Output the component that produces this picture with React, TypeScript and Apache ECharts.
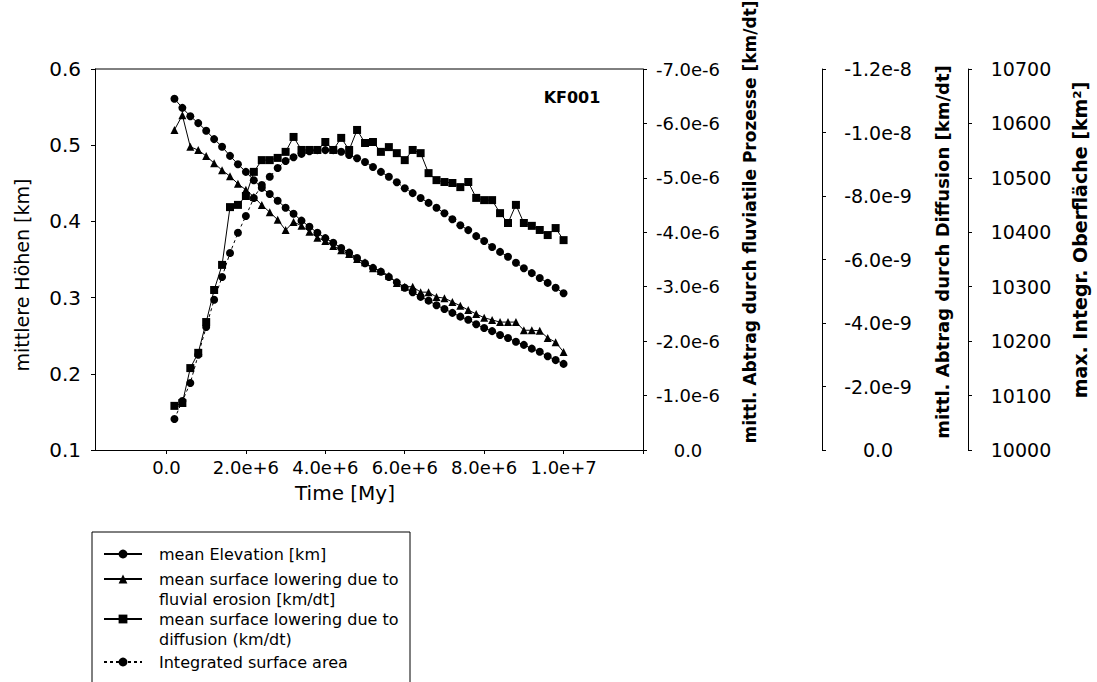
import React, { useEffect, useRef } from "react";
import * as echarts from "echarts";

// ---- data ----
const timeSteps = [
  200000, 400000, 600000, 800000, 1000000, 1200000, 1400000, 1600000, 1800000, 2000000,
  2200000, 2400000, 2600000, 2800000, 3000000, 3200000, 3400000, 3600000, 3800000, 4000000,
  4200000, 4400000, 4600000, 4800000, 5000000, 5200000, 5400000, 5600000, 5800000, 6000000,
  6200000, 6400000, 6600000, 6800000, 7000000, 7200000, 7400000, 7600000, 7800000, 8000000,
  8200000, 8400000, 8600000, 8800000, 9000000, 9200000, 9400000, 9600000, 9800000, 10000000,
];

// mean elevation [km] (left axis)
const meanElevation = [
  0.561, 0.549, 0.538, 0.529, 0.519, 0.508, 0.498, 0.486, 0.475, 0.465,
  0.454, 0.444, 0.436, 0.427, 0.418, 0.41, 0.401, 0.393, 0.385, 0.378,
  0.372, 0.365, 0.359, 0.352, 0.345, 0.339, 0.334, 0.327, 0.32, 0.313,
  0.307, 0.301, 0.296, 0.29, 0.285, 0.28, 0.275, 0.271, 0.265, 0.26,
  0.256, 0.251, 0.247, 0.242, 0.238, 0.233, 0.229, 0.223, 0.218, 0.213,
];

// mean surface lowering due to fluvial erosion [km/dt] (first right axis)
const fluvialLowering = [
  -5.88e-6, -6.15e-6, -5.57e-6, -5.51e-6, -5.4e-6, -5.27e-6, -5.14e-6, -5.03e-6, -4.89e-6, -4.78e-6,
  -4.65e-6, -4.5e-6, -4.37e-6, -4.23e-6, -4.04e-6, -4.19e-6, -4.12e-6, -4.01e-6, -3.9e-6, -3.84e-6,
  -3.75e-6, -3.67e-6, -3.6e-6, -3.51e-6, -3.45e-6, -3.34e-6, -3.29e-6, -3.2e-6, -3.07e-6, -3.0e-6,
  -3.0e-6, -2.9e-6, -2.9e-6, -2.81e-6, -2.79e-6, -2.72e-6, -2.65e-6, -2.57e-6, -2.5e-6, -2.43e-6,
  -2.39e-6, -2.35e-6, -2.35e-6, -2.35e-6, -2.2e-6, -2.2e-6, -2.19e-6, -2.06e-6, -1.98e-6, -1.8e-6,
];

// mean surface lowering due to diffusion [km/dt] (second right axis)
const diffusionLowering = [
  -1.39e-9, -1.48e-9, -2.58e-9, -3.06e-9, -4.03e-9, -5.04e-9, -5.83e-9, -7.65e-9, -7.72e-9, -8.0e-9,
  -8.76e-9, -9.13e-9, -9.13e-9, -9.2e-9, -9.39e-9, -9.86e-9, -9.45e-9, -9.45e-9, -9.45e-9, -9.7e-9,
  -9.45e-9, -9.83e-9, -9.45e-9, -10.08e-9, -9.67e-9, -9.7e-9, -9.39e-9, -9.54e-9, -9.35e-9, -9.13e-9,
  -9.45e-9, -9.35e-9, -8.72e-9, -8.5e-9, -8.44e-9, -8.41e-9, -8.28e-9, -8.44e-9, -7.94e-9, -7.87e-9,
  -7.87e-9, -7.46e-9, -7.15e-9, -7.72e-9, -7.15e-9, -7.06e-9, -6.93e-9, -6.77e-9, -6.99e-9, -6.61e-9,
];

// integrated surface area [km^2] (third right axis)
const surfaceArea = [
  10057, 10090, 10123, 10175, 10226, 10276, 10318, 10362, 10399, 10430,
  10463, 10487, 10502, 10518, 10531, 10538, 10544, 10549, 10551, 10551,
  10551, 10548, 10542, 10536, 10529, 10520, 10511, 10502, 10492, 10481,
  10472, 10463, 10454, 10445, 10435, 10424, 10413, 10404, 10393, 10384,
  10373, 10364, 10355, 10344, 10334, 10325, 10316, 10307, 10298, 10288,
];

const xLabelValues = [0, 2e6, 4e6, 6e6, 8e6, 1e7];
const xTickValues = [0, 2e6, 4e6, 6e6, 8e6, 1e7, 1.2e7];

const seriesNames = [
  "mean Elevation [km]",
  "mean surface lowering due to\nfluvial erosion [km/dt]",
  "mean surface lowering due to\ndiffusion (km/dt)",
  "Integrated surface area",
];

const FONT = "DejaVu Sans";
const BLACK = "#000";

function expLabel(v: number): string {
  if (Math.abs(v) < 1e-15) return "0.0";
  return v.toExponential(1);
}

function pairs(values: number[]) {
  return timeSteps.map((t, i) => [t, values[i]]);
}

function buildOption() {
  const axisCommon = {
    axisLine: { show: true, onZero: false, lineStyle: { color: BLACK, width: 1 } },
    axisTick: { show: true, length: 4, lineStyle: { color: BLACK } },
    splitLine: { show: false },
  };
  const lineSeries = (
    name: string,
    yAxisIndex: number,
    values: number[],
    symbol: string,
    lineType: any
  ) => ({
    name,
    type: "line",
    xAxisIndex: 0,
    yAxisIndex,
    data: pairs(values),
    symbol,
    symbolSize: 8,
    itemStyle: { color: BLACK },
    lineStyle: { color: BLACK, width: 1, type: lineType },
    emphasis: { disabled: true },
  });

  // icon centres wanted at 553, 578, 618, 661
  const legendTops = [544, 549, 589, 652];

  return {
    animation: false,
    backgroundColor: "#fff",
    textStyle: { fontFamily: FONT, color: BLACK },
    grid: {
      left: 95,
      top: 69,
      width: 548,
      height: 381,
      containLabel: false,
      outerBoundsMode: "none",
    },
    xAxis: {
      type: "value",
      min: -1.8e6,
      max: 1.2e7,
      ...axisCommon,
      axisTick: { show: true, length: 4, customValues: xTickValues, lineStyle: { color: BLACK } },
      axisLabel: {
        customValues: xLabelValues,
        formatter: expLabel,
        fontSize: 18,
        fontFamily: FONT,
        color: BLACK,
        margin: 8,
      },
    },
    yAxis: [
      {
        type: "value",
        position: "left",
        min: 0.1,
        max: 0.6,
        interval: 0.1,
        ...axisCommon,
        axisLabel: {
          formatter: (v: number) => v.toFixed(1),
          fontSize: 20,
          fontFamily: FONT,
          color: BLACK,
          margin: 14,
        },
      },
      {
        type: "value",
        position: "right",
        offset: 0,
        min: -7e-6,
        max: 0,
        interval: 1e-6,
        inverse: true,
        ...axisCommon,
        axisLabel: {
          formatter: expLabel,
          fontSize: 18,
          fontFamily: FONT,
          color: BLACK,
          align: "center",
          margin: 45,
        },
      },
      {
        type: "value",
        position: "right",
        offset: 179,
        min: -1.2e-8,
        max: 0,
        interval: 2e-9,
        inverse: true,
        ...axisCommon,
        axisLabel: {
          formatter: expLabel,
          fontSize: 19,
          fontFamily: FONT,
          color: BLACK,
          align: "center",
          margin: 56,
        },
      },
      {
        type: "value",
        position: "right",
        offset: 325,
        min: 10000,
        max: 10700,
        interval: 100,
        ...axisCommon,
        axisLabel: {
          formatter: (v: number) => String(Math.round(v)),
          fontSize: 19,
          fontFamily: FONT,
          color: BLACK,
          align: "center",
          margin: 53,
        },
      },
    ],
    legend: seriesNames.map((name, i) => {
      const twoLine = name.indexOf("\n") >= 0;
      return {
        data: [name],
        orient: "vertical",
        left: 103,
        top: legendTops[i],
        padding: 0,
        itemWidth: 38,
        itemHeight: 11,
        selectedMode: false,
        textStyle: {
          fontSize: 16,
          fontFamily: FONT,
          color: BLACK,
          lineHeight: 20,
          // rich layout honours the top padding, which lifts the first line to the icon
          padding: twoLine ? [20, 0, 0, 12] : [0, 0, 0, 12],
          rich: { n: { fontSize: 16, fontFamily: FONT, lineHeight: 20, color: BLACK } },
        },
      };
    }),
    series: [
      lineSeries(seriesNames[0], 0, meanElevation, "circle", "solid"),
      lineSeries(seriesNames[1], 1, fluvialLowering, "triangle", "solid"),
      lineSeries(seriesNames[2], 2, diffusionLowering, "rect", "solid"),
      lineSeries(seriesNames[3], 3, surfaceArea, "circle", [3, 3]),
    ],
    graphic: [
      {
        type: "line",
        shape: { x1: 95, y1: 69, x2: 643, y2: 69 },
        style: { stroke: BLACK, lineWidth: 1 },
        silent: true,
      },
      {
        type: "text",
        x: 22,
        y: 275,
        rotation: Math.PI / 2,
        style: {
          text: "mittlere Höhen [km]",
          fontSize: 19,
          fontFamily: FONT,
          fill: BLACK,
          align: "center",
          verticalAlign: "middle",
        },
      },
      {
        type: "text",
        x: 345,
        y: 493,
        style: {
          text: "Time [My]",
          fontSize: 20,
          fontFamily: FONT,
          fill: BLACK,
          align: "center",
          verticalAlign: "middle",
        },
      },
      {
        type: "text",
        x: 750,
        y: 222,
        rotation: Math.PI / 2,
        style: {
          text: "mittl. Abtrag durch fluviatile Prozesse [km/dt]",
          fontSize: 17,
          fontWeight: "bold",
          fontFamily: FONT,
          fill: BLACK,
          align: "center",
          verticalAlign: "middle",
        },
      },
      {
        type: "text",
        x: 942,
        y: 252,
        rotation: Math.PI / 2,
        style: {
          text: "mittl. Abtrag durch Diffusion [km/dt]",
          fontSize: 18,
          fontWeight: "bold",
          fontFamily: FONT,
          fill: BLACK,
          align: "center",
          verticalAlign: "middle",
        },
      },
      {
        type: "text",
        x: 1080,
        y: 240,
        rotation: Math.PI / 2,
        style: {
          text: "max. Integr. Oberfläche [km²]",
          fontSize: 19,
          fontWeight: "bold",
          fontFamily: FONT,
          fill: BLACK,
          align: "center",
          verticalAlign: "middle",
        },
      },
      {
        type: "text",
        x: 572,
        y: 97,
        style: {
          text: "KF001",
          fontSize: 16,
          fontWeight: "bold",
          fontFamily: FONT,
          fill: BLACK,
          align: "center",
          verticalAlign: "middle",
        },
      },
      {
        type: "rect",
        shape: { x: 92, y: 532, width: 318, height: 170 },
        style: { fill: "transparent", stroke: BLACK, lineWidth: 1 },
        silent: true,
      },
    ],
  };
}

export default function App() {
  const ref = useRef<HTMLDivElement | null>(null);
  useEffect(() => {
    if (!ref.current) return;
    const chart = echarts.init(ref.current, undefined, { renderer: "svg" });
    chart.setOption(buildOption() as any);
    return () => {
      chart.dispose();
    };
  }, []);
  return (
    <div
      ref={ref}
      style={{ position: "absolute", left: 0, top: 0, width: "1097px", height: "682px", background: "#fff" }}
    />
  );
}
